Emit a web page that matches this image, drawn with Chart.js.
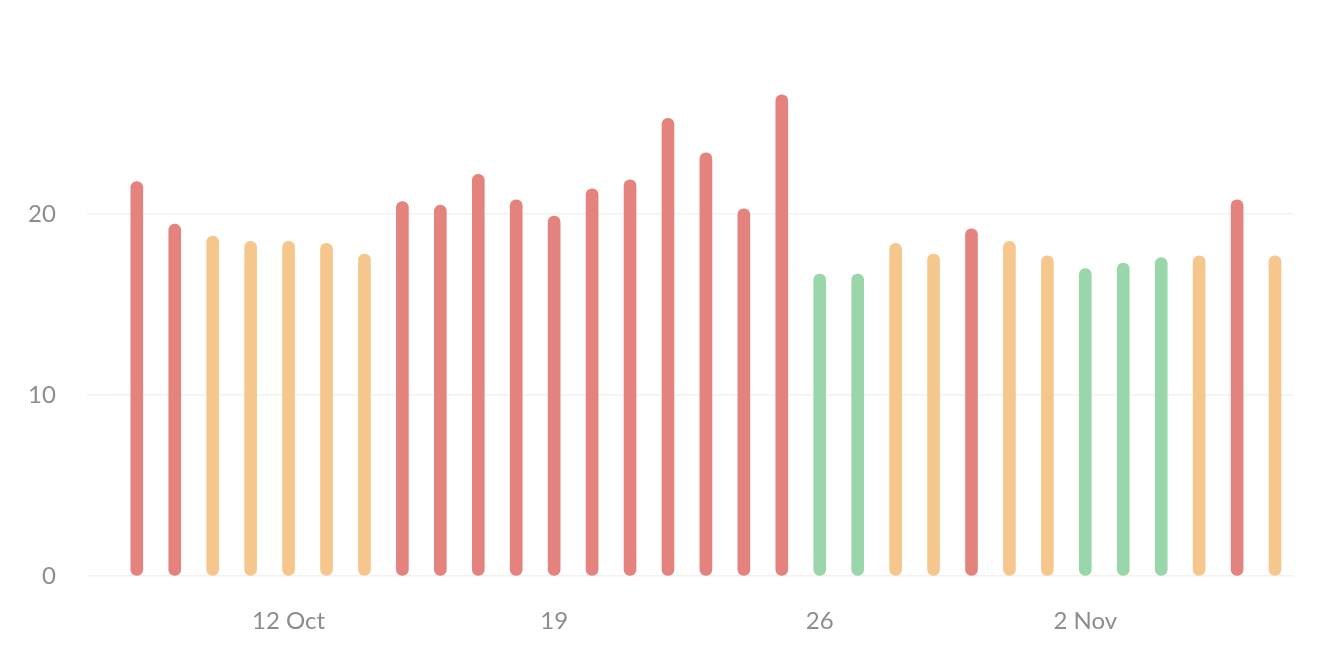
<!DOCTYPE html>
<html>
<head>
<meta charset="utf-8">
<script src="https://cdn.jsdelivr.net/npm/chart.js@4"></script>
<style>
  html, body { margin: 0; padding: 0; background: #fff; }
  #wrap { width: 1330px; height: 662px; }
</style>
</head>
<body>
<div id="wrap"><canvas id="chart"></canvas></div>
<script>
// Daily values, 8 Oct .. 7 Nov
const days = [
  '8 Oct', '9 Oct', '10 Oct', '11 Oct', '12 Oct', '13 Oct', '14 Oct',
  '15 Oct', '16 Oct', '17 Oct', '18 Oct', '19 Oct', '20 Oct', '21 Oct',
  '22 Oct', '23 Oct', '24 Oct', '25 Oct', '26 Oct', '27 Oct', '28 Oct',
  '29 Oct', '30 Oct', '31 Oct', '1 Nov', '2 Nov', '3 Nov', '4 Nov',
  '5 Nov', '6 Nov', '7 Nov'
];
const values = [
  21.8, 19.45, 18.8, 18.5, 18.5, 18.4, 17.8,
  20.7, 20.5, 22.2, 20.8, 19.9, 21.4, 21.9,
  25.3, 23.4, 20.3, 26.6, 16.7, 16.7, 18.4,
  17.8, 19.2, 18.5, 17.7, 17.0, 17.3, 17.6,
  17.7, 20.8, 17.7
];
// r = red, o = orange, g = green
const levels = [
  'r', 'r', 'o', 'o', 'o', 'o', 'o',
  'r', 'r', 'r', 'r', 'r', 'r', 'r',
  'r', 'r', 'r', 'r', 'g', 'g', 'o',
  'o', 'r', 'o', 'o', 'g', 'g', 'g',
  'o', 'r', 'o'
];
// which x labels are shown, and their text
const tickIndex = [4, 11, 18, 25];
const tickText = ['12 Oct', '19', '26', '2 Nov'];

const levelColors = { r: '#e4827e', o: '#f5c78c', g: '#99d6a9' };

Chart.defaults.font.family = 'Lato, sans-serif';
Chart.defaults.font.size = 24;
Chart.defaults.color = '#8c8c8c';

const isMajor = v => v % 10 === 0;

new Chart(document.getElementById('chart'), {
  type: 'bar',
  data: {
    labels: days,
    datasets: [{
      data: values,
      backgroundColor: levels.map(l => levelColors[l]),
      barThickness: 12,
      borderRadius: 6,
      borderSkipped: false
    }]
  },
  options: {
    responsive: true,
    maintainAspectRatio: false,
    animation: false,
    layout: { padding: { left: -3, top: -1, right: 36, bottom: -5 } },
    plugins: {
      legend: { display: false },
      tooltip: { enabled: false }
    },
    scales: {
      x: {
        grid: { display: false, drawTicks: false },
        border: { display: false },
        ticks: {
          padding: 31,
          autoSkip: false,
          maxRotation: 0,
          callback: function(value, index) {
            const k = tickIndex.indexOf(index);
            return k >= 0 ? tickText[k] : '';
          }
        }
      },
      y: {
        min: 0,
        max: 29.33,
        border: { display: false },
        grid: {
          color: ctx => ctx.tick && isMajor(ctx.tick.value) ? '#f6f0f1' : 'rgba(0,0,0,0)',
          lineWidth: 1.5,
          tickLength: 31
        },
        ticks: {
          stepSize: 10,
          padding: 31,
          callback: v => isMajor(v) ? v : ''
        }
      }
    }
  }
});
</script>
</body>
</html>
